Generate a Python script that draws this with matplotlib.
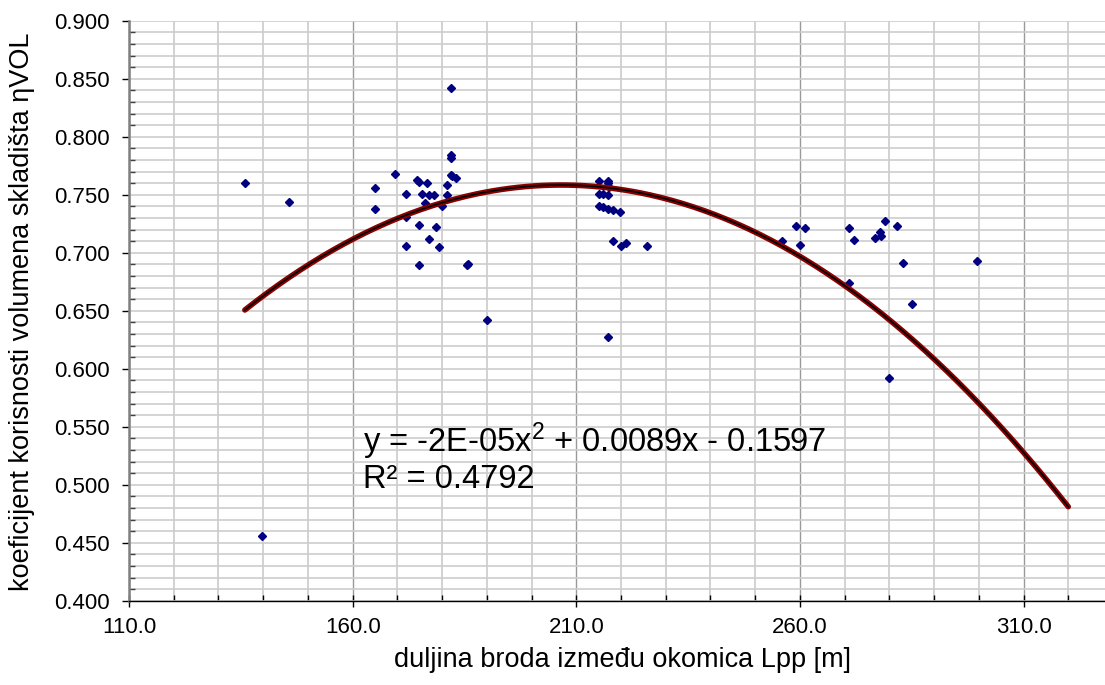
import numpy as np
import matplotlib
matplotlib.use('Agg')
import matplotlib.pyplot as plt
from matplotlib.ticker import FixedLocator, FormatStrFormatter

plt.rcParams['font.family'] = ['Liberation Sans', 'DejaVu Sans']
plt.rcParams['mathtext.fontset'] = 'custom'
plt.rcParams['mathtext.rm'] = 'Liberation Sans'
plt.rcParams['mathtext.default'] = 'regular'

# ship length between perpendiculars [m] and hold volume coefficient
LPP = [135.9, 145.8, 139.7, 165.0, 165.0, 169.4, 172.0, 172.0, 172.0, 174.5,
       174.8, 174.9, 174.9, 175.4, 176.1, 176.6, 177.0, 177.0, 178.1, 178.6,
       179.4, 180.0, 181.0, 181.0, 182.0, 182.0, 182.0, 182.0, 182.3, 183.1,
       185.9, 185.6, 190.0, 215.0, 217.0, 217.2, 217.3, 215.0, 216.0, 217.2,
       215.0, 216.0, 217.0, 218.1, 219.8, 218.3, 220.0, 221.1, 225.9, 217.0,
       256.0, 259.1, 261.2, 260.1, 271.0, 272.1, 271.0, 279.0, 281.6, 278.0,
       276.7, 278.1, 283.0, 285.0, 280.0, 299.7]
ETA = [0.760, 0.744, 0.456, 0.756, 0.738, 0.768, 0.751, 0.731, 0.706, 0.763,
       0.761, 0.724, 0.689, 0.751, 0.743, 0.760, 0.750, 0.712, 0.750, 0.722,
       0.705, 0.740, 0.758, 0.750, 0.842, 0.784, 0.782, 0.767, 0.766, 0.764,
       0.690, 0.689, 0.642, 0.762, 0.762, 0.760, 0.757, 0.751, 0.751, 0.750,
       0.740, 0.739, 0.738, 0.737, 0.735, 0.710, 0.706, 0.708, 0.706, 0.627,
       0.710, 0.723, 0.721, 0.707, 0.721, 0.711, 0.674, 0.727, 0.723, 0.718,
       0.713, 0.714, 0.691, 0.656, 0.592, 0.693]

# polynomial trendline (unrounded coefficients), forecast up to 320 m
TREND_COEF = [-2.156e-5, 0.008908, -0.1618]
TREND_END = 320.0
EQ_TEXT = 'y = -2E-05x$^{2}$ + 0.0089x - 0.1597'
R2_TEXT = 'R² = 0.4792'

XTICKS = [110, 160, 210, 260, 310]
XMINOR = list(range(110, 331, 10))
YTICKS = [0.400, 0.450, 0.500, 0.550, 0.600, 0.650, 0.700, 0.750, 0.800, 0.850, 0.900]
YMINOR = list(np.round(np.arange(0.40, 0.9001, 0.01), 3))

fig = plt.figure(figsize=(11.05, 6.85), dpi=100)
ax = fig.add_axes([129 / 1105, (685 - 600.7) / 685, 984 / 1105, 580 / 685])
ax.set_xlim(110, 330)
ax.set_ylim(0.4, 0.9)

ax.xaxis.set_major_locator(FixedLocator(XTICKS))
ax.xaxis.set_minor_locator(FixedLocator(XMINOR))
ax.yaxis.set_major_locator(FixedLocator(YTICKS))
ax.yaxis.set_minor_locator(FixedLocator(YMINOR))
ax.xaxis.set_major_formatter(FormatStrFormatter('%.1f'))
ax.yaxis.set_major_formatter(FormatStrFormatter('%.3f'))

ax.grid(which='minor', axis='x', color='#cfcfcf', linewidth=1.3)
ax.grid(which='major', axis='x', color='#9a9a9a', linewidth=1.0)
ax.grid(which='both', axis='y', color='#cdcdcd', linewidth=1.2)
ax.set_axisbelow(True)

for s in ['top', 'right']:
    ax.spines[s].set_visible(False)
ax.spines['left'].set_color('#808080')
ax.spines['left'].set_linewidth(1.8)
ax.spines['bottom'].set_color('black')
ax.spines['bottom'].set_linewidth(1.0)

ax.tick_params(axis='x', which='major', direction='inout', length=9, width=1,
               labelsize=16, pad=7)
ax.tick_params(axis='x', which='minor', direction='in', length=4, width=1)
ax.tick_params(axis='y', which='major', direction='out', length=5, width=1,
               labelsize=16, pad=9)
ax.tick_params(axis='y', which='minor', direction='in', length=4, width=1,
               color='#404040')

ax.plot(LPP, ETA, linestyle='none', marker='D', markersize=4.4,
        color='#000080', zorder=3)

xt = np.linspace(min(LPP), TREND_END, 300)
yt = np.polyval(TREND_COEF, xt)
ax.plot(xt, yt, color='#8b0000', linewidth=4.0, solid_capstyle='round', zorder=4)
ax.plot(xt, yt, color='black', linewidth=1.2, zorder=5)

ax.text(162.3, 0.5285, EQ_TEXT, fontsize=23.5, ha='left', va='baseline', zorder=6)
ax.text(162.3, 0.4975, R2_TEXT, fontsize=23.5, ha='left', va='baseline', zorder=6)

fig.text(622 / 1105, 1 - 660 / 685, 'duljina broda između okomica Lpp [m]',
         fontsize=19.5, ha='center', va='center')
fig.text(22 / 1105, 1 - 312 / 685, 'koeficijent korisnosti volumena skladišta ηVOL',
         fontsize=19.5, ha='center', va='center', rotation=90)

fig.savefig('out.png', dpi=100)
